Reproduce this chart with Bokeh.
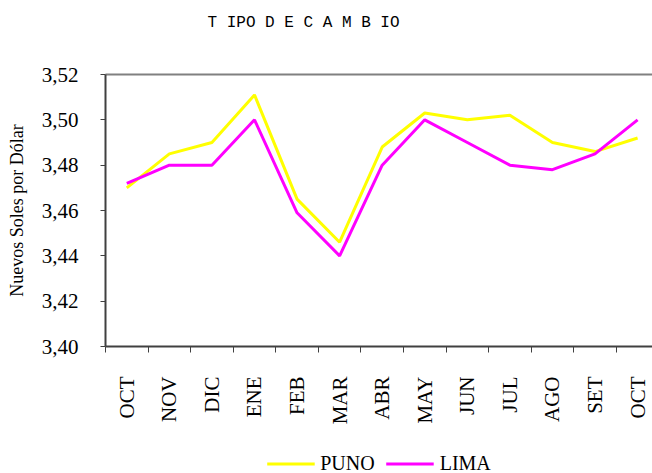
import math
from bokeh.plotting import figure
from bokeh.layouts import column
from bokeh.models import (Range1d, FixedTicker, CustomJSTickFormatter, LinearAxis,
                          Legend, LegendItem, Title, ColumnDataSource)
from bokeh.embed import file_html
from bokeh.resources import INLINE

# ---- data ----
months = ["OCT", "NOV", "DIC", "ENE", "FEB", "MAR", "ABR", "MAY", "JUN", "JUL", "AGO", "SET", "OCT"]
puno = [3.470, 3.485, 3.490, 3.511, 3.465, 3.446, 3.488, 3.503, 3.500, 3.502, 3.490, 3.486, 3.492]
lima = [3.472, 3.480, 3.480, 3.500, 3.459, 3.440, 3.480, 3.500, 3.490, 3.480, 3.478, 3.485, 3.500]
y_ticks = [3.40, 3.42, 3.44, 3.46, 3.48, 3.50, 3.52]
title_text = "T IPO  D E C A M B IO"
y_label = "Nuevos Soles por Dólar"
series_names = ["PUNO", "LIMA"]

x_centers = [i + 0.5 for i in range(len(months))]
x_bounds = [float(i) for i in range(len(months) + 1)]

source = ColumnDataSource(data=dict(x=x_centers, puno=puno, lima=lima))

SERIF = "Liberation Serif"
YELLOW = "#FFFF00"
MAGENTA = "#FF00FF"

# title strip
pt = figure(width=652, height=52, output_backend="svg", toolbar_location=None,
            x_range=Range1d(0, 1), y_range=Range1d(0, 1),
            min_border_left=105, min_border_right=0, min_border_top=0, min_border_bottom=0)
pt.axis.visible = False
pt.grid.grid_line_color = None
pt.outline_line_color = None
pt.title = Title(text=title_text, align="left", offset=102, text_font="Liberation Mono",
                 text_font_size="16px", text_font_style="normal", text_color="#000000",
                 standoff=22)

# main chart
p = figure(width=652, height=401, output_backend="svg", toolbar_location=None,
           x_range=Range1d(0, 12.85), y_range=Range1d(y_ticks[0], y_ticks[-1]),
           min_border_left=105, min_border_right=0, min_border_top=22, min_border_bottom=107)
p.outline_line_color = None
p.grid.grid_line_color = None

xa = p.xaxis[0]
xa.ticker = FixedTicker(ticks=x_centers, minor_ticks=x_bounds)
xa.formatter = CustomJSTickFormatter(args=dict(months=months),
                                     code="return months[Math.floor(tick)];")
xa.major_tick_line_color = None
xa.major_tick_out = 0
xa.major_tick_in = 0
xa.minor_tick_line_color = "#404040"
xa.minor_tick_out = 6
xa.minor_tick_in = 0
xa.axis_line_color = "#404040"
xa.axis_line_width = 2
xa.major_label_orientation = math.pi / 2
xa.major_label_standoff = 24
xa.major_label_text_font = SERIF
xa.major_label_text_font_size = "21px"
xa.major_label_text_color = "#000000"

ya = p.yaxis[0]
ya.ticker = FixedTicker(ticks=y_ticks)
ya.formatter = CustomJSTickFormatter(code="return tick.toFixed(2).replace('.', ',');")
ya.major_tick_out = 5
ya.major_tick_in = 0
ya.minor_tick_line_color = None
ya.major_tick_line_color = "#404040"
ya.axis_line_color = "#404040"
ya.axis_line_width = 2
ya.major_label_text_font = SERIF
ya.major_label_text_font_size = "21px"
ya.major_label_text_color = "#000000"
ya.major_label_standoff = 22
ya.axis_label = y_label
ya.axis_label_text_font = SERIF
ya.axis_label_text_font_size = "18px"
ya.axis_label_text_font_style = "normal"
ya.axis_label_text_color = "#000000"
ya.axis_label_standoff = 12

top = LinearAxis(ticker=FixedTicker(ticks=[]), axis_line_color="#808080", axis_line_width=2,
                 major_tick_line_color=None, minor_tick_line_color=None,
                 major_label_text_font_size="0px")
p.add_layout(top, "above")

p.line("x", "puno", source=source, line_color=YELLOW, line_width=3)
p.line("x", "lima", source=source, line_color=MAGENTA, line_width=3)

# legend strip (separate small figure; its sample lines fall outside its ranges)
pl = figure(width=652, height=20, output_backend="svg", toolbar_location=None,
            x_range=Range1d(0, 1), y_range=Range1d(0, 1),
            min_border_left=105, min_border_right=0, min_border_top=0, min_border_bottom=0)
pl.axis.visible = False
pl.grid.grid_line_color = None
pl.outline_line_color = None
l1 = pl.line("x", "puno", source=source, line_color=YELLOW, line_width=3)
l2 = pl.line("x", "lima", source=source, line_color=MAGENTA, line_width=3)
legend = Legend(items=[LegendItem(label=series_names[0], renderers=[l1]),
                       LegendItem(label=series_names[1], renderers=[l2])],
                orientation="horizontal", location="center",
                label_text_font=SERIF, label_text_font_size="20px", label_text_color="#000000",
                border_line_color=None, background_fill_alpha=0,
                glyph_width=48, glyph_height=18, label_height=18,
                label_standoff=6, spacing=11, padding=0, margin=0)
pl.add_layout(legend)

open("out.html", "w").write(file_html(column(pt, p, pl, spacing=0), INLINE))
